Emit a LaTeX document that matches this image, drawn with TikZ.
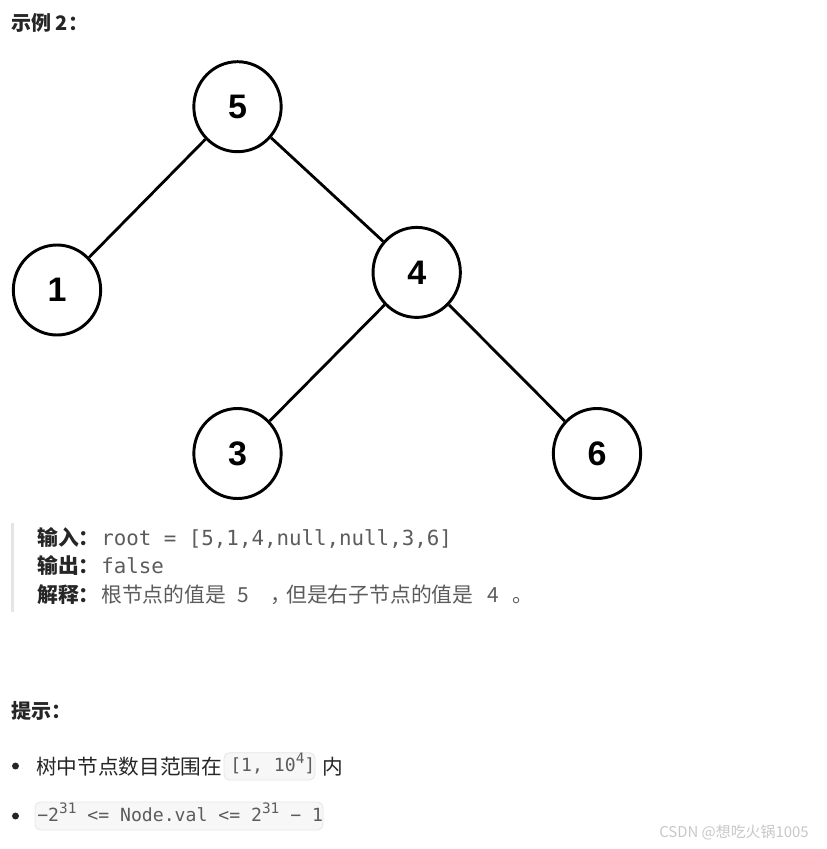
\documentclass[tikz,border=0pt]{standalone}
\usepackage{fontspec}
\setmainfont{Liberation Sans}
\newfontfamily\cjk{Noto Sans CJK SC}
\newfontfamily\monof{DejaVu Sans Mono}
\newfontfamily\numf{Liberation Sans}
\definecolor{txt}{HTML}{262626}
\definecolor{gtxt}{HTML}{5C5C5C}
\definecolor{codebg}{HTML}{F7F7F8}
\definecolor{codebd}{HTML}{E6E6E6}
\definecolor{barc}{HTML}{E5E5E5}
\definecolor{wm}{HTML}{C8C8C8}
\usetikzlibrary{shapes.geometric}
\newcommand\supx[1]{\raisebox{0.42em}{\fontsize{10.8}{10.8}\selectfont #1}}
\tikzset{
  tn/.style={ellipse, draw=black, line width=2.2pt, fill=white, inner sep=0pt,
    minimum width=65.5pt, minimum height=67.5pt,
    font=\numf\bfseries\fontsize{25.5}{25.5}\selectfont},
  te/.style={line width=2.1pt, draw=black},
  lbl/.style={anchor=base west, inner sep=0pt, text=txt, font=\cjk\bfseries\fontsize{15.6}{15.6}\selectfont},
  head/.style={anchor=base west, inner sep=0pt, text=txt, font=\cjk\bfseries\fontsize{15}{15}\selectfont},
  mono/.style={anchor=base west, inner sep=0pt, text=gtxt, font=\monof\fontsize{15.6}{15.6}\selectfont},
  gcjk/.style={anchor=base west, inner sep=0pt, text=gtxt, font=\cjk\fontsize{15.6}{15.6}\selectfont},
  bcjk/.style={anchor=base west, inner sep=0pt, text=txt, font=\cjk\fontsize{15.5}{15.5}\selectfont},
  code/.style={anchor=base west, inner sep=0pt, text=gtxt, font=\monof\fontsize{13.6}{13.6}\selectfont},
  codebox/.style={fill=codebg, draw=codebd, line width=0.6pt, rounded corners=4pt},
}
\begin{document}
\begin{tikzpicture}[x=0.75pt, y=-0.75pt]
\useasboundingbox (0,0) rectangle (827,849);
\fill[white] (0,0) rectangle (827,849);

% title
\node[head] (title) at (11,30.5) {示例 2：};

% tree
\begin{scope}
\clip (0,40) rectangle (642,499.5);
\node[tn] (n5) at (237.5,106.7) {5};
\node[tn] (n1) at (57,290) {1};
\node[tn] (n4) at (416.7,272.4) {4};
\node[tn] (n3) at (237.5,453.5) {3};
\node[tn] (n6) at (597,453.5) {6};
\draw[te] (n5) -- (n1);
\draw[te] (n5) -- (n4);
\draw[te] (n4) -- (n3);
\draw[te] (n4) -- (n6);
\end{scope}

% example block
\fill[barc] (11,523) rectangle (14,612);
\node[lbl] (l1) at (37,545) {输入：};
\node[mono] (v1) at (101,545) {root = [5,1,4,null,null,3,6]};
\node[lbl] (l2) at (37,573.5) {输出：};
\node[mono] (v2) at (101,573.5) {false};
\node[lbl] (l3) at (37,602) {解释：};
\node[gcjk] (e1) at (101,602) {根节点的值是};
\node[gcjk] (e2) at (237,602) {5};
\node[gcjk] (e3) at (270,602) {，};
\node[gcjk] (e4) at (286,602) {但是右子节点的值是};
\node[gcjk] (e5) at (487,602) {4};
\node[gcjk] (e6) at (512,602) {。};

% hints
\node[head] (hint) at (11,718) {提示：};
\fill[txt] (15.5,766) circle (2.6pt);
\node[bcjk] (b1) at (36,774) {树中节点数目范围在};
\draw[codebox] (224,752.7) rectangle (315,780);
\node[code] (c1) at (230,771.5) {[1, 10\supx{4}]};
\node[bcjk] (b1e) at (322,774) {内};
\fill[txt] (15.5,816) circle (2.6pt);
\draw[codebox] (35,802) rectangle (323,830);
\node[code] (c2) at (37,821.5) {−2\supx{31} <= Node.val <= 2\supx{31} − 1};

% watermark
\node[anchor=base west, inner sep=0pt, text=wm, font=\cjk\fontsize{11.2}{11.2}\selectfont] (wmk) at (659,837) {CSDN @想吃火锅1005};
\end{tikzpicture}
\end{document}
